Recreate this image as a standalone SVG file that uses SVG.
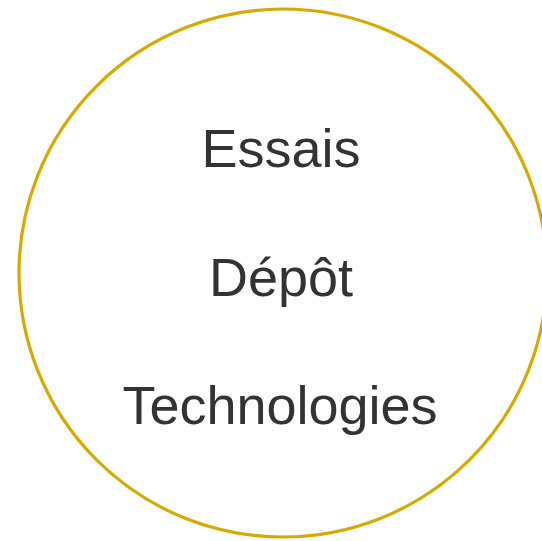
<svg xmlns="http://www.w3.org/2000/svg" width="542" height="541" viewBox="0 0 542 541">
<style>
.lbl{font-family:"Liberation Sans",Arial,sans-serif;font-size:54px;fill:#333333;text-anchor:middle}
</style>
<rect width="542" height="541" fill="#ffffff"/>
<g id="circle">
<circle cx="283" cy="273" r="264" fill="none" stroke="#d6aa00" stroke-width="3.2"/>
<text class="lbl" x="281" y="167">Essais</text>
<text class="lbl" x="281" y="296">Dépôt</text>
<text class="lbl" x="280" y="424">Technologies</text>
</g>
<g id="connectors"/>
</svg>
